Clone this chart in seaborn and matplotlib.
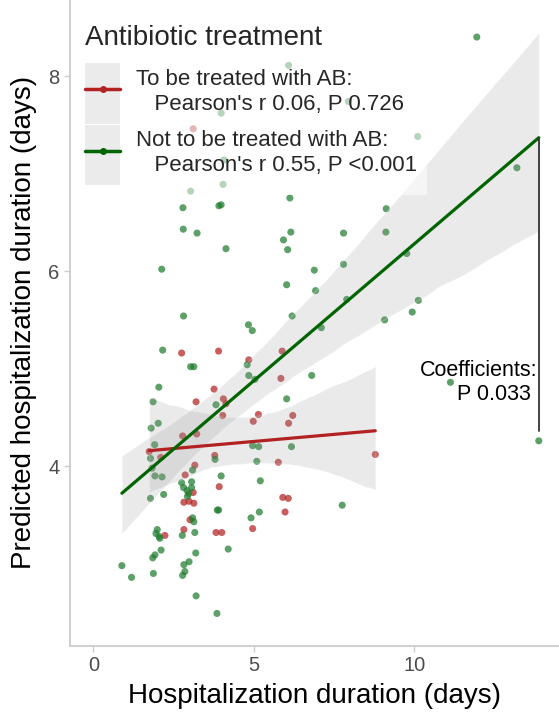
import numpy as np
import pandas as pd
import seaborn as sns
import matplotlib.pyplot as plt
from matplotlib.lines import Line2D
from matplotlib.patches import Rectangle
from matplotlib.legend_handler import HandlerLine2D

sns.set_style("white")
plt.rcParams['font.family'] = ['Liberation Sans', 'DejaVu Sans']

# to be treated with AB
red_x = [1.74, 2.10, 2.23, 2.75, 2.78, 2.86, 2.82, 2.98, 3.13, 3.11, 3.16, 3.22, 3.20,
         3.01, 2.82, 3.11, 3.76, 3.90, 4.05, 4.13, 4.03, 3.78, 3.92, 3.82, 4.00, 4.84,
         5.14, 4.98, 4.96, 5.76, 5.88, 5.84, 6.21, 6.08, 5.90, 6.07, 5.97, 8.78]
red_y = [4.15, 4.09, 3.29, 5.16, 4.31, 3.91, 3.63, 3.64, 3.62, 3.73, 4.01, 4.33, 4.66,
         3.45, 3.35, 7.46, 4.79, 5.18, 4.69, 4.64, 4.52, 4.11, 3.79, 3.32, 3.32, 5.09,
         4.53, 4.46, 3.36, 4.04, 5.18, 4.90, 4.52, 4.44, 3.68, 3.67, 3.53, 4.12]

# not to be treated with AB
green_x = [0.89, 1.19, 1.87, 1.78, 1.85, 1.92, 2.11, 1.99, 1.95, 2.05, 2.07, 2.19, 2.14,
           1.92, 1.83, 1.78, 1.91, 1.80, 2.02, 1.86, 2.04, 2.16, 2.13, 2.81, 2.79, 2.80,
           3.03, 3.23, 3.03, 3.13, 3.09, 2.75, 3.06, 2.81, 3.06, 2.92, 2.97, 2.93, 3.09,
           3.13, 2.77, 3.16, 3.19, 2.98, 2.82, 2.85, 2.78, 3.20, 3.85, 3.86, 3.90, 4.20,
           3.98, 3.79, 3.82, 3.91, 3.98, 4.04, 3.98, 4.07, 4.13, 4.79, 4.84, 5.03, 4.83,
           4.95, 4.91, 5.17, 5.09, 5.20, 4.96, 5.15, 6.02, 6.17, 5.92, 6.15, 6.05, 6.12,
           6.08, 6.02, 6.19, 6.80, 6.88, 6.92, 7.10, 7.75, 7.79, 7.79, 7.89, 7.94, 9.07,
           9.12, 9.11, 9.76, 9.93, 10.12, 10.10, 11.12, 11.94, 13.19, 13.87]
green_y = [2.98, 2.86, 2.90, 3.67, 3.06, 3.09, 3.14, 3.35, 3.31, 3.28, 3.26, 3.71, 3.89,
           3.90, 3.98, 4.08, 4.22, 4.39, 4.44, 4.66, 4.81, 5.19, 6.02, 5.54, 6.65, 6.43,
           6.82, 6.39, 5.02, 5.02, 3.96, 3.83, 3.84, 3.78, 3.78, 3.75, 3.72, 3.69, 3.47,
           3.43, 3.29, 3.32, 3.11, 3.02, 2.99, 2.92, 2.88, 2.67, 2.49, 3.55, 3.55, 3.15,
           3.90, 4.07, 4.63, 6.67, 6.68, 6.89, 7.62, 7.14, 6.23, 5.04, 4.93, 4.89, 5.45,
           5.39, 3.47, 3.53, 4.05, 3.85, 4.21, 4.20, 4.69, 4.20, 6.32, 6.40, 6.22, 6.75,
           8.11, 5.86, 5.54, 4.93, 6.01, 5.80, 5.42, 3.60, 6.39, 6.07, 5.71, 7.74, 5.50,
           6.64, 6.40, 6.18, 5.58, 5.70, 7.38, 4.86, 8.40, 7.06, 4.26]

groups = ["To be treated with AB", "Not to be treated with AB"]
legend_labels = ["To be treated with AB:\n   Pearson's r 0.06, P 0.726",
                 "Not to be treated with AB:\n   Pearson's r 0.55, P <0.001"]
point_colors = {groups[0]: "firebrick", groups[1]: "#1e7b2e"}
line_colors = {groups[0]: "#b22222", groups[1]: "#006400"}
x_ticks = [0, 5, 10]
y_ticks = [4, 6, 8]

df = pd.DataFrame({
    "hosp": red_x + green_x,
    "pred": red_y + green_y,
    "group": [groups[0]] * len(red_x) + [groups[1]] * len(green_x),
})


class KeyHandler(HandlerLine2D):
    # grey key background (like the se band) with the line drawn across its middle
    def create_artists(self, legend, orig_handle, xdescent, ydescent, width, height,
                       fontsize, trans):
        rect = Rectangle((-xdescent, -ydescent), width, height, facecolor="#ebebeb",
                         edgecolor="none", transform=trans)
        arts = super().create_artists(legend, orig_handle, xdescent, ydescent, width,
                                      height, fontsize, trans)
        ymid = height / 2 - ydescent + 0.2 * fontsize
        for a in arts:
            a.set_ydata(np.full_like(np.asarray(a.get_xdata(), dtype=float), ymid))
        return [rect] + arts


fig = plt.figure(figsize=(5.59, 7.13), dpi=100)
ax = fig.add_axes([0.125, 0.0945, 0.875, 0.9055])

sns.scatterplot(data=df, x="hosp", y="pred", hue="group", palette=point_colors,
                s=26, alpha=0.72, linewidth=0, legend=False, ax=ax, zorder=1)

for g in groups:
    sub = df[df["group"] == g]
    sns.regplot(data=sub, x="hosp", y="pred", scatter=False, ci=95, seed=0,
                color=line_colors[g], line_kws={"lw": 2.3, "zorder": 3}, ax=ax)
    band = ax.collections[-1]
    band.set_facecolor("#999999")
    band.set_alpha(0.2)
    band.set_zorder(2)

# bracket between the two fitted lines
fit_r = np.polyfit(red_x, red_y, 1)
fit_g = np.polyfit(green_x, green_y, 1)
xb = max(green_x)
y_top = np.polyval(fit_g, xb)
y_bot = np.polyval(fit_r, max(red_x))
ax.plot([xb, xb], [y_bot, y_top], color="#333333", lw=1.3, zorder=4)
ax.text(xb - 0.05, 4.86, "Coefficients:\nP 0.033 ", ha="right", va="center",
        multialignment="right", fontsize=15.5, color="black", linespacing=1.15)

ax.set_xlim(-0.73, 14.5)
ax.set_ylim(2.16, 8.78)
ax.set_xticks(x_ticks)
ax.set_yticks(y_ticks)
ax.tick_params(axis="both", labelsize=14.5, labelcolor="#4d4d4d", color="#cccccc",
               length=4, width=1, direction="out", left=True, bottom=True)
for side in ["top", "right"]:
    ax.spines[side].set_visible(False)
for side in ["left", "bottom"]:
    ax.spines[side].set_color("#cccccc")
    ax.spines[side].set_linewidth(1.3)

ax.set_xlabel("Hospitalization duration (days)", fontsize=20, color="black", labelpad=6)
ax.set_ylabel("Predicted hospitalization duration (days)", fontsize=20, color="black", labelpad=8)

handles = [Line2D([], [], color=line_colors[g], lw=2.5, marker="o", ms=4) for g in groups]
leg = ax.legend(handles, legend_labels, title="Antibiotic treatment",
                handler_map={Line2D: KeyHandler()},
                loc="upper left", bbox_to_anchor=(0.01, 0.977), borderaxespad=0,
                fontsize=16, title_fontsize=20, frameon=True, fancybox=False,
                framealpha=0.55, facecolor="white", edgecolor="none",
                handlelength=1.6, handleheight=3.8, handletextpad=0.7,
                labelspacing=0.05, borderpad=0.45, alignment="left")
for t in leg.get_texts():
    t.set_linespacing(1.25)
leg._legend_box.sep = 9  # extra room between title and keys

plt.savefig("out.png", dpi=100)
